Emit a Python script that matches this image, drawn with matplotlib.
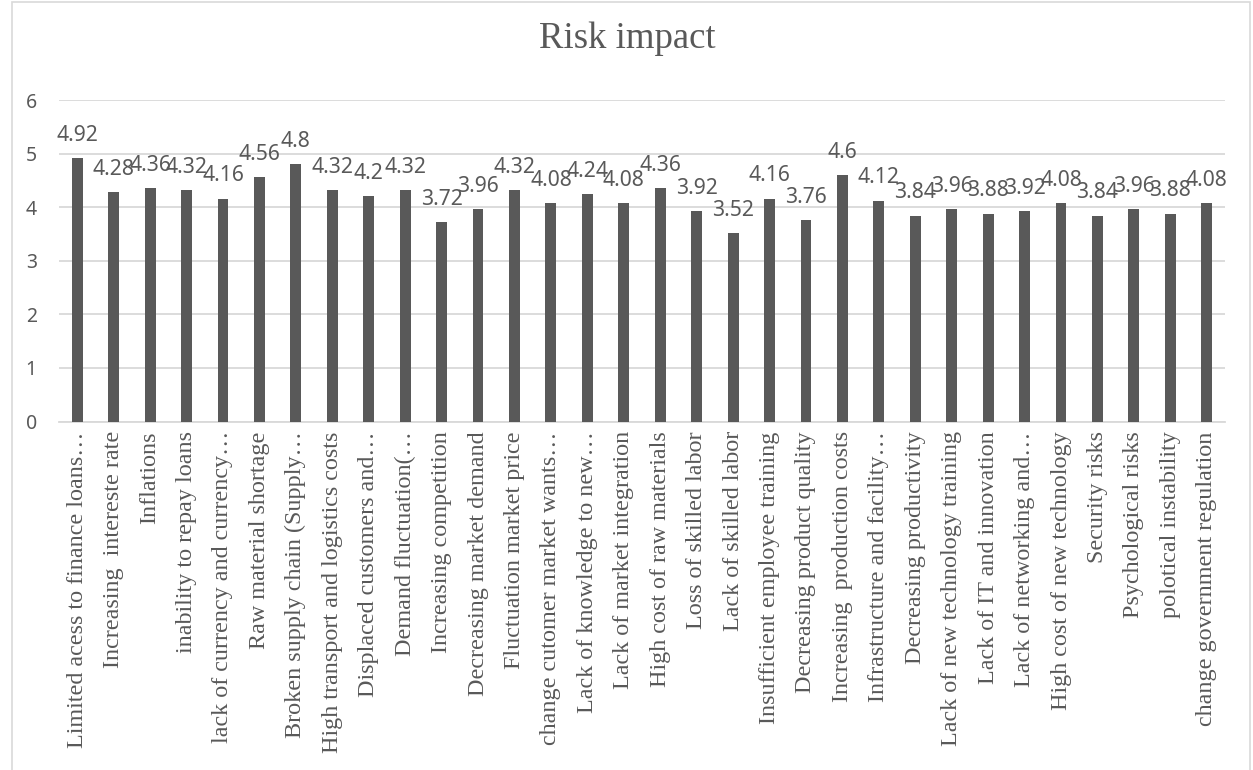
import matplotlib
matplotlib.use("Agg")
import matplotlib.pyplot as plt
from matplotlib.patches import Rectangle

categories = [
    "Limited acess to finance loans…",
    "Increasing  intereste rate",
    "Inflations",
    "inability to repay loans",
    "lack of currency and currency…",
    "Raw material shortage",
    "Broken supply chain (Supply…",
    "High transport and logistics costs",
    "Displaced customers and…",
    "Demand fluctuation(…",
    "Increasing competition",
    "Decreasing market demand",
    "Fluctuation market price",
    "change cutomer market wants…",
    "Lack of knowledge to new…",
    "Lack of market integration",
    "High cost of raw materials",
    "Loss of skilled labor",
    "Lack of skilled labor",
    "Insufficient employee training",
    "Decreasing product quality",
    "Increasing  production costs",
    "Infrastructure and facility…",
    "Decreasing productivity",
    "Lack of new technology training",
    "Lack of IT and innovation",
    "Lack of networking and…",
    "High cost of new technology",
    "Security risks",
    "Psychological risks",
    "polotical instability",
    "change government regulation",
]
impact = [4.92, 4.28, 4.36, 4.32, 4.16, 4.56, 4.8, 4.32, 4.2, 4.32, 3.72,
          3.96, 4.32, 4.08, 4.24, 4.08, 4.36, 3.92, 3.52, 4.16, 3.76, 4.6,
          4.12, 3.84, 3.96, 3.88, 3.92, 4.08, 3.84, 3.96, 3.88, 4.08]
y_ticks = [0, 1, 2, 3, 4, 5, 6]
title = "Risk impact"

BAR = "#595959"
TEXT = "#595959"
GRID = "#d9d9d9"
SANS = ["Noto Sans", "DejaVu Sans"]
SERIF = ["Liberation Serif", "DejaVu Serif"]

W, H = 1253, 770
fig = plt.figure(figsize=(W / 100, H / 100), dpi=100)
ax = fig.add_axes([59 / W, 1 - 421.5 / H, 1166 / W, 321.5 / H])

x = list(range(len(categories)))
ax.bar(x, impact, width=0.30, color=BAR, zorder=3)

for xi, v in zip(x, impact):
    ax.annotate(f"{v:g}", (xi, v), xytext=(0, 12.5), textcoords="offset points",
                ha="center", va="baseline", fontsize=15.2, color=TEXT,
                family=SANS, zorder=4)

ax.set_xlim(-0.5, len(categories) - 0.5)
ax.set_ylim(0, 6)
ax.set_yticks(y_ticks)
ax.set_yticklabels([str(t) for t in y_ticks], family=SANS, fontsize=14,
                   color=TEXT)
ax.set_xticks(x)
ax.set_xticklabels(categories, rotation=90, family=SERIF, fontsize=17.4,
                   color=TEXT, va="top", ha="center")
ax.tick_params(axis="both", length=0)
ax.tick_params(axis="y", pad=16)
ax.tick_params(axis="x", pad=7)

ax.grid(axis="y", color=GRID, linewidth=1.3, zorder=0)
for side in ("top", "right", "left"):
    ax.spines[side].set_visible(False)
ax.spines["bottom"].set_color(GRID)
ax.spines["bottom"].set_linewidth(1.3)
ax.spines["bottom"].set_zorder(2)

fig.text(627 / W, 1 - 39 / H, title, ha="center", va="center",
         family=SERIF, fontsize=26.5, color=TEXT)

fig.add_artist(Rectangle((12 / W, -0.05), (1250 - 12) / W, 1.05 - 2 / H,
                         transform=fig.transFigure, fill=False,
                         edgecolor=GRID, linewidth=1.2))

fig.savefig("out.png", dpi=100, facecolor="white")
